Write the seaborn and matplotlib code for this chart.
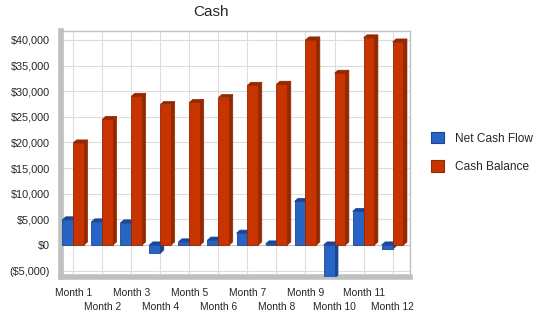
import matplotlib
matplotlib.use("Agg")
import matplotlib.pyplot as plt
import seaborn as sns
import pandas as pd
from matplotlib.patches import Polygon, Patch
from matplotlib.ticker import FuncFormatter, MultipleLocator

# values
months = ["Month %d" % i for i in range(1, 13)]
net_cash_flow = [4900, 4500, 4300, -1600, 600, 950, 2300, 200, 8500, -6500, 6550, -850]
cash_balance = [19900, 24500, 29000, 27400, 27800, 28750, 31150, 31350, 40000, 33500, 40400, 39600]
series_names = ["Net Cash Flow", "Cash Balance"]
front_colors = ["#2864c4", "#c83400"]
side_colors = ["#1b4596", "#942800"]

df = pd.DataFrame({
    "month": months * 2,
    "value": net_cash_flow + cash_balance,
    "series": [series_names[0]] * 12 + [series_names[1]] * 12,
})

sns.set_style("white")
plt.rcParams["font.family"] = ["Liberation Sans", "DejaVu Sans"]

fig = plt.figure(figsize=(5.5, 3.18), dpi=100)
ax = fig.add_axes([61 / 550, 1 - 277 / 318, (410 - 61) / 550, (277 - 31) / 318])

sns.barplot(data=df, x="month", y="value", hue="series", palette=front_colors,
            width=0.75, dodge=True, ax=ax, legend=False, saturation=1, zorder=3)

# fake 3D depth on every bar (side + top face)
dx, dy = 0.12, 600
for i, bar in enumerate(ax.patches):
    s = 0 if i < 12 else 1
    bar.set_edgecolor(side_colors[s])
    bar.set_linewidth(0.6)
    x0 = bar.get_x()
    x1 = x0 + bar.get_width()
    y0 = bar.get_y()
    h = bar.get_height()
    lo, hi = min(y0, y0 + h), max(y0, y0 + h)
    side = Polygon([(x1, lo), (x1 + dx, lo + dy), (x1 + dx, hi + dy), (x1, hi)],
                   closed=True, facecolor=side_colors[s], edgecolor=side_colors[s],
                   linewidth=0.5, zorder=2.9)
    top = Polygon([(x0, hi), (x0 + dx, hi + dy), (x1 + dx, hi + dy), (x1, hi)],
                  closed=True, facecolor=side_colors[s], edgecolor=side_colors[s],
                  linewidth=0.5, zorder=2.9)
    ax.add_patch(side)
    ax.add_patch(top)

ax.set_ylim(-6250, 41750)
ax.set_xlim(-0.42, 11.6)
ax.yaxis.set_major_locator(MultipleLocator(5000))


def money(v, pos):
    if v < 0:
        return "(${:,.0f})".format(-v)
    return "${:,.0f}".format(v)


ax.yaxis.set_major_formatter(FuncFormatter(money))
# odd months on the first row, even months one row lower
ax.set_xticks(range(0, 12, 2))
ax.set_xticklabels(months[0::2])
ax.set_xticks(range(1, 12, 2), minor=True)
ax.set_xticklabels(months[1::2], minor=True)
ax.set_xlabel("")
ax.set_ylabel("")
ax.tick_params(axis="y", length=0, labelsize=7.8, pad=8)
ax.tick_params(axis="x", which="both", length=5, color="#c0c0c0", labelsize=7.4,
               direction="out")
ax.tick_params(axis="x", which="major", pad=3)
ax.tick_params(axis="x", which="minor", pad=13)
ax.axhline(0, color="#c8c8c8", linewidth=0.8, zorder=2)

ax.grid(True, which="both", axis="x", color="#dddddd", linewidth=0.8, zorder=0)
ax.grid(True, which="major", axis="y", color="#dddddd", linewidth=0.8, zorder=0)
ax.set_axisbelow(True)
for side_name in ["top", "right"]:
    ax.spines[side_name].set_color("#c0c0c0")
    ax.spines[side_name].set_linewidth(1)
ax.spines["left"].set_color("#c0c0c0")
ax.spines["left"].set_linewidth(4)
ax.spines["bottom"].set_color("#c0c0c0")
ax.spines["bottom"].set_linewidth(4)

fig.text(211 / 550, 1 - 12 / 318, "Cash", ha="center", va="center", fontsize=11)

handles = [Patch(facecolor=front_colors[k], edgecolor=side_colors[k], linewidth=0.8)
           for k in range(2)]
fig.legend(handles, series_names, loc="upper left",
           bbox_to_anchor=(431 / 550, 1 - 132 / 318), frameon=False,
           fontsize=8.6, handlelength=1.1, handleheight=1.1, handletextpad=0.9,
           labelspacing=1.3, borderpad=0, borderaxespad=0)

fig.savefig("out.png", dpi=100)
